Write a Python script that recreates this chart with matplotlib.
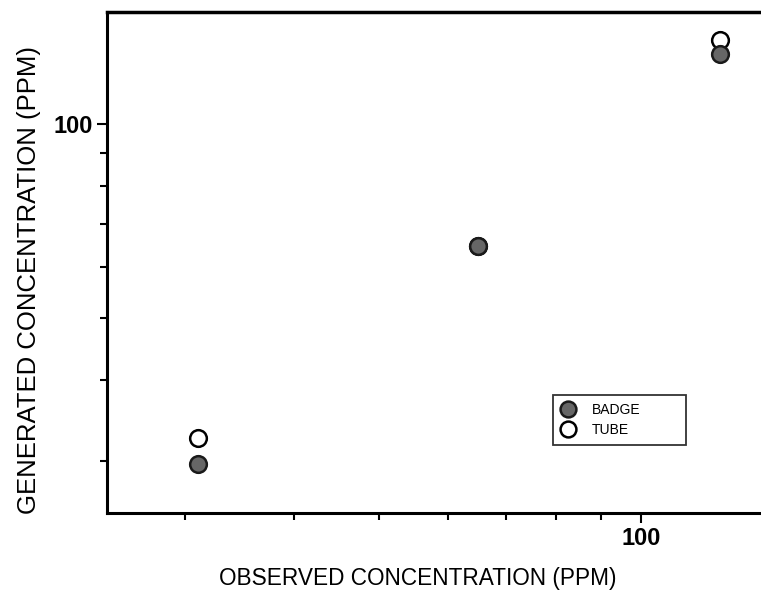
import matplotlib
matplotlib.use("Agg")
import matplotlib.pyplot as plt
from matplotlib.ticker import FixedLocator, NullFormatter, FixedFormatter

# observed vs generated concentration, ppm
observed = [31.0, 65.1, 123.3]
badge = [29.7, 64.7, 128.4]
tube = [32.5, 64.7, 135.0]

plt.rcParams["font.family"] = ["Liberation Sans", "DejaVu Sans"]

fig = plt.figure(figsize=(7.61, 6.12), dpi=100)
ax = fig.add_axes([0.1406, 0.1618, 0.878, 0.818])

ax.plot(observed, tube, 'o', markersize=12, markerfacecolor='white',
        markeredgecolor='black', markeredgewidth=1.8, label='TUBE', zorder=3)
ax.plot(observed, badge, 'o', markersize=12, markerfacecolor='#666666',
        markeredgecolor='#1a1a1a', markeredgewidth=1.8, label='BADGE', zorder=4)

ax.set_xscale('log')
ax.set_yscale('log')
ax.set_xlim(24.4, 142.6)
ax.set_ylim(24.9, 149)

minor = [30, 40, 50, 60, 70, 80, 90]
ax.xaxis.set_major_locator(FixedLocator([100]))
ax.yaxis.set_major_locator(FixedLocator([100]))
ax.xaxis.set_major_formatter(FixedFormatter(['100']))
ax.yaxis.set_major_formatter(FixedFormatter(['100']))
ax.xaxis.set_minor_locator(FixedLocator(minor))
ax.yaxis.set_minor_locator(FixedLocator(minor))
ax.xaxis.set_minor_formatter(NullFormatter())
ax.yaxis.set_minor_formatter(NullFormatter())

ax.tick_params(which='major', direction='out', length=7, width=1.5,
               labelsize=17, pad=3)
ax.tick_params(which='minor', direction='out', length=5, width=1.5)
for lab in ax.get_xticklabels() + ax.get_yticklabels():
    lab.set_fontweight('bold')

ax.spines['left'].set_linewidth(2.2)
ax.spines['bottom'].set_linewidth(2.2)
ax.spines['top'].set_linewidth(2.5)
ax.spines['right'].set_linewidth(2.2)

fig.text(0.549, 0.055, 'OBSERVED CONCENTRATION (PPM)', ha='center', va='center',
         fontsize=16.3)
fig.text(0.038, 0.542, 'GENERATED CONCENTRATION (PPM)', ha='center', va='center',
         rotation=90, fontsize=18.5)

handles, labels = ax.get_legend_handles_labels()
leg = ax.legend(handles[::-1], labels[::-1], loc='upper left', mode='expand',
                bbox_to_anchor=(553 / 761, 1 - 448 / 612, 133 / 761, 53 / 612),
                bbox_transform=fig.transFigure, borderaxespad=0,
                fontsize=10, frameon=True, fancybox=False, edgecolor='black',
                handletextpad=1.2, borderpad=0.6, labelspacing=0.4,
                handlelength=1.0, markerscale=0.95)
leg.get_frame().set_linewidth(1.3)

fig.savefig('out.png', dpi=100)
